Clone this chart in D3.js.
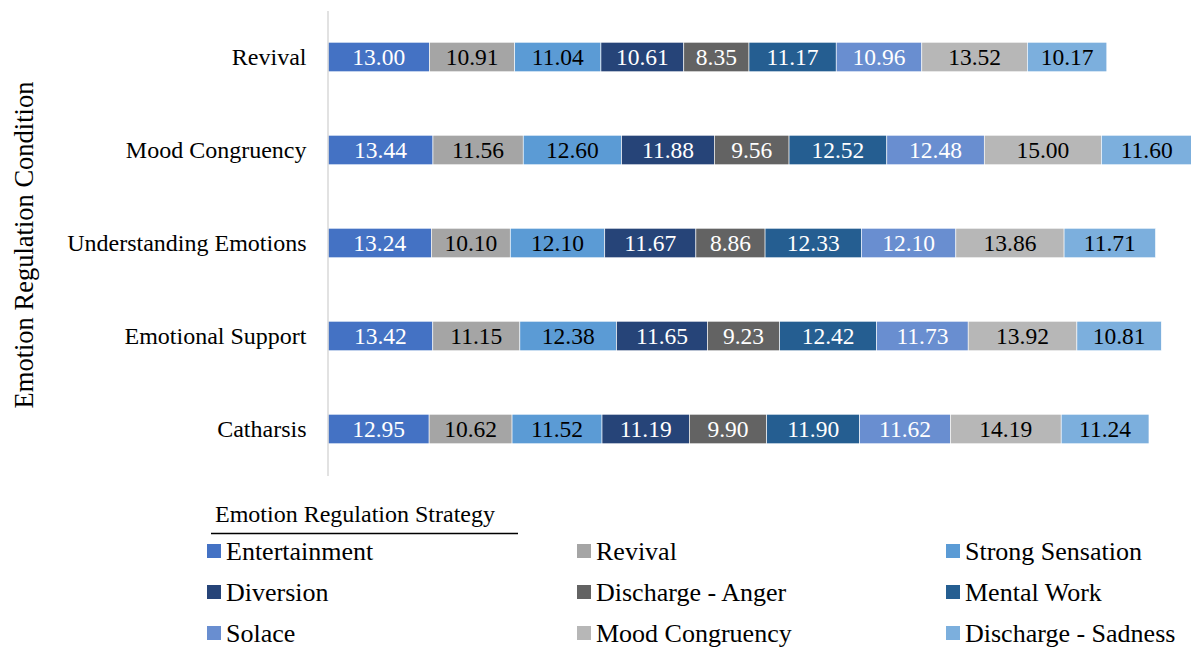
<!DOCTYPE html>
<html>
<head>
<meta charset="utf-8">
<script src="https://cdn.jsdelivr.net/npm/d3@7"></script>
<style>
  html, body { margin: 0; padding: 0; background: #fff; }
  svg { display: block; }
  svg text { font-family: "Liberation Serif", Tinos, "Times New Roman", Times, "DejaVu Serif", serif; }
</style>
</head>
<body>
<svg id="chart" width="1191" height="648"></svg>
<script>
// Emotion regulation conditions (rows, top to bottom)
const conditions = ["Revival", "Mood Congruency", "Understanding Emotions", "Emotional Support", "Catharsis"];

// Emotion regulation strategies (stacked segments, left to right)
const strategies = ["Entertainment", "Revival", "Strong Sensation", "Diversion", "Discharge - Anger",
                    "Mental Work", "Solace", "Mood Congruency", "Discharge - Sadness"];

const strategyColors = ["#4472C4", "#A5A5A5", "#5B9BD5", "#264478", "#636363",
                        "#255E91", "#698ED0", "#B7B7B7", "#7CAFDD"];
const labelColors = ["#fff", "#000", "#000", "#fff", "#fff", "#fff", "#fff", "#000", "#000"];

// Mean scores per condition, in strategy order
const revivalValues        = [13.00, 10.91, 11.04, 10.61, 8.35, 11.17, 10.96, 13.52, 10.17];
const moodCongruencyValues = [13.44, 11.56, 12.60, 11.88, 9.56, 12.52, 12.48, 15.00, 11.60];
const understandingValues  = [13.24, 10.10, 12.10, 11.67, 8.86, 12.33, 12.10, 13.86, 11.71];
const supportValues        = [13.42, 11.15, 12.38, 11.65, 9.23, 12.42, 11.73, 13.92, 10.81];
const catharsisValues      = [12.95, 10.62, 11.52, 11.19, 9.90, 11.90, 11.62, 14.19, 11.24];

const valuesByCondition = [revivalValues, moodCongruencyValues, understandingValues, supportValues, catharsisValues];

const axisTitle = "Emotion Regulation Condition";
const legendTitle = "Emotion Regulation Strategy";

const svg = d3.select("#chart");

const rows = conditions.map((c, i) => {
  const r = { condition: c };
  strategies.forEach((s, j) => { r[s] = valuesByCondition[i][j]; });
  return r;
});

const stacked = d3.stack().keys(strategies)(rows);

const x = d3.scaleLinear().domain([0, 110]).range([328, 1187]);
const y = d3.scaleBand().domain(conditions).range([10.5, 475.5])
  .paddingInner(0.683).paddingOuter(0.3415);

// Bars
const layers = svg.append("g").selectAll("g")
  .data(stacked).join("g")
  .attr("fill", (d, i) => strategyColors[i]);

layers.selectAll("rect")
  .data(d => d.map(p => ({ p, key: d.key })))
  .join("rect")
  .attr("x", d => x(d.p[0]))
  .attr("y", d => y(d.p.data.condition))
  .attr("width", d => x(d.p[1]) - x(d.p[0]))
  .attr("height", y.bandwidth())
  .attr("stroke", "#fff")
  .attr("stroke-width", 0.6);

// Value labels
layers.each(function(layer, i) {
  d3.select(this).selectAll("text")
    .data(layer)
    .join("text")
    .attr("x", d => (x(d[0]) + x(d[1])) / 2)
    .attr("y", d => y(d.data.condition) + y.bandwidth() / 2)
    .attr("dy", "0.36em")
    .attr("text-anchor", "middle")
    .attr("font-size", 23.5)
    .attr("fill", labelColors[i])
    .text(d => (d[1] - d[0]).toFixed(2));
});

// Category axis
const yAxis = d3.axisLeft(y).tickSize(0).tickPadding(21);
const gy = svg.append("g").attr("transform", "translate(327.5,0)").call(yAxis);
gy.attr("font-family", null);
gy.select(".domain").attr("stroke", "#D9D9D9").attr("stroke-width", 1.5);
gy.selectAll("text").attr("font-size", 24).attr("fill", "#000");

// Axis title
svg.append("text")
  .attr("transform", "translate(33,245) rotate(-90)")
  .attr("text-anchor", "middle")
  .attr("font-size", 26.5)
  .text(axisTitle);

// Legend
const legend = svg.append("g");
legend.append("text")
  .attr("x", 215).attr("y", 522)
  .attr("font-size", 24)
  .text(legendTitle);
legend.append("line")
  .attr("x1", 211).attr("x2", 518)
  .attr("y1", 533.5).attr("y2", 533.5)
  .attr("stroke", "#000").attr("stroke-width", 1.5);

const colX = [207, 577, 946];
const rowY = [551, 592, 633];
const items = legend.selectAll("g.item")
  .data(strategies).join("g")
  .attr("class", "item")
  .attr("transform", (d, i) => `translate(${colX[i % 3]},${rowY[Math.floor(i / 3)]})`);
items.append("rect")
  .attr("x", 0).attr("y", -7).attr("width", 14).attr("height", 14)
  .attr("fill", (d, i) => strategyColors[i]);
items.append("text")
  .attr("x", 19).attr("dy", "0.35em")
  .attr("font-size", 26)
  .text(d => d);
</script>
</body>
</html>
